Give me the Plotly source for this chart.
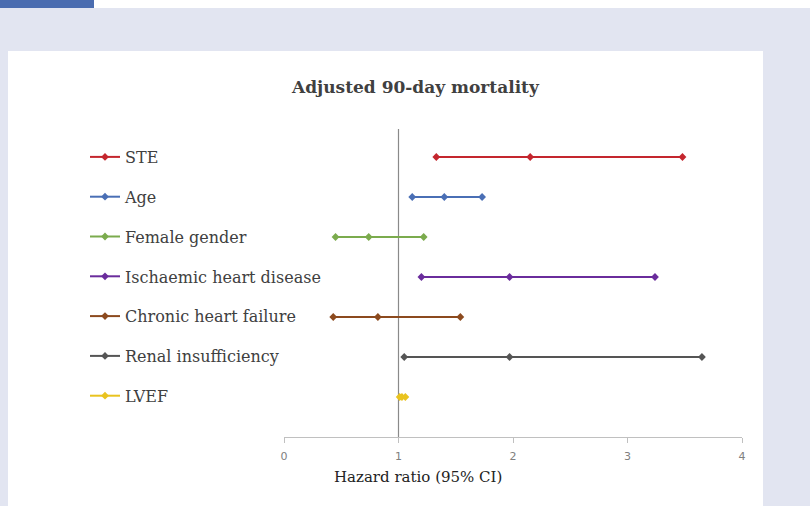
import plotly.graph_objects as go

variables = ["STE", "Age", "Female gender", "Ischaemic heart disease",
             "Chronic heart failure", "Renal insufficiency", "LVEF"]
lower = [1.33, 1.12, 0.45, 1.20, 0.43, 1.05, 1.01]
estimate = [2.15, 1.40, 0.74, 1.97, 0.82, 1.97, 1.03]
upper = [3.48, 1.73, 1.22, 3.24, 1.54, 3.65, 1.06]
rows = [7, 6, 5, 4, 3, 2, 1]
colors = ["#c4262e", "#4a6fb5", "#7bab4d", "#6a2c9c", "#8c4a1e", "#555555", "#e9c31f"]
x_ticks = [0, 1, 2, 3, 4]

W, H = 810, 506
L, R, T, B = 284, 68, 129, 69
pw, ph = W - L - R, H - T - B

def px(xp):
    return (xp - L) / pw

def py(yp):
    return (H - B - yp) / ph

fig = go.Figure()
for i, name in enumerate(variables):
    fig.add_trace(go.Scatter(
        x=[lower[i], estimate[i], upper[i]],
        y=[rows[i]] * 3,
        mode="lines+markers",
        name=name,
        legendgroup=name,
        line=dict(color=colors[i], width=2),
        marker=dict(color=colors[i], size=6, symbol="diamond"),
        hoverinfo="x+name",
    ))

shapes = [
    dict(type="rect", xref="paper", yref="paper", x0=px(8), x1=px(763), y0=py(506), y1=py(51),
         fillcolor="white", line=dict(width=0), layer="below"),
    dict(type="rect", xref="paper", yref="paper", x0=px(0), x1=px(94), y0=py(8), y1=py(0),
         fillcolor="#4a6cb0", line=dict(width=0), layer="below"),
    dict(type="rect", xref="paper", yref="paper", x0=px(94), x1=px(810), y0=py(8), y1=py(0),
         fillcolor="white", line=dict(width=0), layer="below"),
    dict(type="line", xref="x", yref="y", x0=1, x1=1, y0=0, y1=7.7,
         line=dict(color="#8a8a8a", width=1.2), layer="below"),
]

fig.update_layout(
    width=W, height=H,
    margin=dict(l=L, r=R, t=T, b=B),
    paper_bgcolor="#e2e5f1",
    plot_bgcolor="white",
    shapes=shapes,
    showlegend=True,
    legend=dict(
        x=px(85), xanchor="left", y=py(140), yanchor="top",
        font=dict(family="DejaVu Serif", size=16, color="#404040"),
        bgcolor="rgba(0,0,0,0)", tracegroupgap=16, itemclick=False,
    ),
    xaxis=dict(
        range=[0, 4], tickvals=x_ticks, ticktext=[str(t) for t in x_ticks],
        showgrid=False, zeroline=False, showline=True, linecolor="#c0c0c0", linewidth=1,
        ticks="outside", ticklen=5, tickcolor="#c0c0c0", ticklabelstandoff=4,
        tickfont=dict(family="DejaVu Sans", size=11, color="#808080"),
        fixedrange=True,
    ),
    yaxis=dict(range=[0, 7.7], visible=False, showgrid=False, zeroline=False, fixedrange=True),
    annotations=[
        dict(text="<b>Adjusted 90-day mortality</b>", xref="paper", yref="paper",
             x=px(415), y=py(87), xanchor="center", yanchor="middle", showarrow=False,
             font=dict(family="DejaVu Serif", size=17, color="#404040")),
        dict(text="Hazard ratio (95% CI)", xref="paper", yref="paper",
             x=px(418), y=py(477), xanchor="center", yanchor="middle", showarrow=False,
             font=dict(family="DejaVu Serif", size=15, color="#222222")),
    ],
)

fig.write_html("out.html", config={"displayModeBar": False},
               post_script="document.body.style.margin='0';")
